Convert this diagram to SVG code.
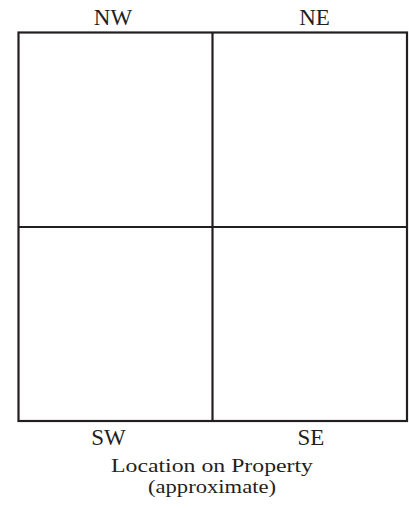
<svg xmlns="http://www.w3.org/2000/svg" width="409" height="508" viewBox="0 0 409 508">
<style>
.ln{stroke:#231f20;stroke-width:2.2;fill:none}
.lb{font-family:"Liberation Serif","Times New Roman",serif;fill:#231f20;text-anchor:middle}
</style>
<rect width="409" height="508" fill="#fff"/>
<g id="grid">
<rect class="ln" x="18.5" y="32.5" width="388.5" height="388.5"/>
<line class="ln" x1="212.5" y1="32.5" x2="212.5" y2="421"/>
<line class="ln" x1="18.5" y1="227" x2="407" y2="227"/>
</g>
<g id="labels">
<text class="lb" x="113" y="25" font-size="23">NW</text>
<text class="lb" x="314.5" y="25" font-size="23">NE</text>
<text class="lb" x="108.5" y="445" font-size="23">SW</text>
<text class="lb" x="311" y="445" font-size="23">SE</text>
<text class="lb" x="212" y="472" font-size="19.5" textLength="202" lengthAdjust="spacingAndGlyphs">Location on Property</text>
<text class="lb" x="212" y="493" font-size="19.5" textLength="128" lengthAdjust="spacingAndGlyphs">(approximate)</text>
</g>
</svg>
